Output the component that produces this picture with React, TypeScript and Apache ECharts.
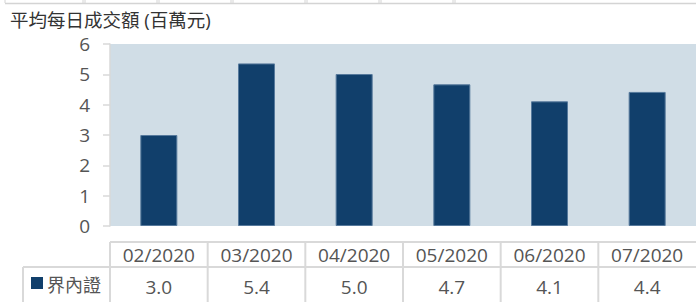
import React, { useEffect, useRef } from "react";
import * as echarts from "echarts";

const titleText = "平均每日成交額 (百萬元)";
const seriesName = "界內證";
const categories = ["02/2020", "03/2020", "04/2020", "05/2020", "06/2020", "07/2020"];
const values = [3.0, 5.36, 5.01, 4.67, 4.11, 4.42];
const yMin = 0;
const yMax = 6;
const yInterval = 1;
// remnant of a table border at the very top of the crop
const topRemnantX = [5, 83, 85, 157, 159, 231, 233, 305, 307, 379, 381, 453, 455];

const FONT = "'Open Sans', 'Noto Sans CJK TC', sans-serif";
const BAR = "#113F6B";
const GRID_LINE = "#d9d9d9";
const TEXT = "#555555";

export default function App() {
  const ref = useRef<HTMLDivElement>(null);
  useEffect(() => {
    document.body.style.margin = "0";
    const chart = echarts.init(ref.current!, null, { renderer: "svg" });
    chart.setOption({
      animation: false,
      grid: {
        left: 110,
        top: 44,
        width: 596,
        height: 182,
        show: true,
        backgroundColor: "#D0DDE6",
        borderWidth: 0,
      },
      xAxis: {
        type: "category",
        data: categories,
        axisLine: { show: false },
        axisTick: { show: false },
        axisLabel: { show: false },
      },
      yAxis: {
        type: "value",
        min: yMin,
        max: yMax,
        interval: yInterval,
        axisLine: { show: true, lineStyle: { color: GRID_LINE, width: 1.5 } },
        axisTick: { show: true, length: 7, lineStyle: { color: GRID_LINE, width: 1.5 } },
        splitLine: { show: false },
        axisLabel: { color: TEXT, fontSize: 19, fontFamily: FONT, margin: 20 },
      },
      series: [
        {
          name: seriesName,
          type: "bar",
          data: values,
          barWidth: 37,
          itemStyle: { color: BAR, borderColor: "#56799c", borderWidth: 1 },
        },
      ],
    });

    const c0 = chart.convertToPixel({ xAxisIndex: 0 }, 0) as number;
    const c1 = chart.convertToPixel({ xAxisIndex: 0 }, 1) as number;
    const bw = c1 - c0;
    const bounds: number[] = [];
    for (let i = 0; i <= categories.length; i++) bounds.push(c0 - bw / 2 + i * bw);

    const headTop = 242;
    const rowTop = 267;
    const bottom = 302;
    const legendLeft = 23;
    const ls = { stroke: GRID_LINE, lineWidth: 2 };

    const g: any[] = [];
    g.push({
      type: "text",
      left: 10,
      top: 10,
      style: { text: titleText, fontSize: 18.5, fontFamily: FONT, fill: "#333" },
    });
    // top remnant
    g.push({ type: "line", shape: { x1: 5, y1: 3.5, x2: 696, y2: 3.5 }, style: { stroke: "#d4d4d4", lineWidth: 1.5 } });
    topRemnantX.forEach((x) =>
      g.push({ type: "line", shape: { x1: x, y1: 0, x2: x, y2: 3 }, style: { stroke: "#d4d4d4", lineWidth: 1 } })
    );
    // table lines
    g.push({ type: "line", shape: { x1: bounds[0], y1: headTop, x2: 696, y2: headTop }, style: ls });
    g.push({ type: "line", shape: { x1: legendLeft, y1: rowTop, x2: 696, y2: rowTop }, style: ls });
    g.push({ type: "line", shape: { x1: legendLeft, y1: rowTop, x2: legendLeft, y2: bottom }, style: ls });
    bounds.forEach((x) => {
      if (x < 696) g.push({ type: "line", shape: { x1: x, y1: headTop, x2: x, y2: bottom }, style: ls });
    });
    // legend
    g.push({ type: "rect", shape: { x: 31, y: 277, width: 12, height: 12 }, style: { fill: BAR } });
    g.push({
      type: "text",
      x: 47,
      y: 285,
      style: { text: seriesName, fontSize: 18, fontFamily: FONT, fill: TEXT, verticalAlign: "middle" },
    });
    categories.forEach((cat, i) => {
      const cx = chart.convertToPixel({ xAxisIndex: 0 }, i) as number;
      g.push({
        type: "text",
        x: cx,
        y: 255,
        style: { text: cat, fontSize: 19, fontFamily: FONT, fill: TEXT, align: "center", verticalAlign: "middle" },
      });
      g.push({
        type: "text",
        x: cx,
        y: 287,
        style: {
          text: values[i].toFixed(1),
          fontSize: 19,
          fontFamily: FONT,
          fill: TEXT,
          align: "center",
          verticalAlign: "middle",
        },
      });
    });
    chart.setOption({ graphic: g });
    return () => chart.dispose();
  }, []);
  return <div ref={ref} style={{ width: 696, height: 302 }} />;
}
